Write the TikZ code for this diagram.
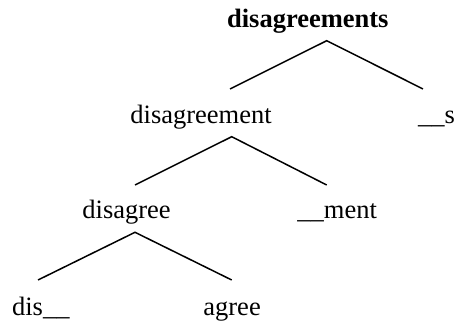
\documentclass[tikz,border=0pt]{standalone}
\usepackage{fontspec}
\setmainfont{Liberation Serif}
\begin{document}
\begin{tikzpicture}[x=0.5pt,y=-0.5pt,
  lbl/.style={anchor=base west, inner sep=0pt, font=\fontsize{13.25}{16}\selectfont},
  rootlbl/.style={lbl, font=\fontsize{13.25}{16}\selectfont\bfseries},
  branch/.style={line width=0.75pt}]
\useasboundingbox (0,0) rectangle (456,324);
% labels
\node[rootlbl] (root) at (226.7,28) {disagreements};
\node[lbl] (n1) at (130,124) {disagreement};
\node[lbl] (s) at (417.7,124) {\_\_s};
\node[lbl] (n2) at (82,219) {disagree};
\node[lbl] (ment) at (297,219) {\_\_ment};
\node[lbl] (dis) at (11.7,316) {dis\_\_};
\node[lbl] (agree) at (203,316) {agree};
% branch points
\coordinate (root-top) at (326.7,40.7);
\coordinate (n1-end) at (230,89);
\coordinate (s-end) at (423,89);
\coordinate (n1-top) at (231.7,136.7);
\coordinate (n2-end) at (135,185);
\coordinate (ment-end) at (326.7,185);
\coordinate (n2-top) at (135,232.3);
\coordinate (dis-end) at (38,280);
\coordinate (agree-end) at (231.7,280);
% connectors
\draw[branch] (n1-end) -- (root-top) -- (s-end);
\draw[branch] (n2-end) -- (n1-top) -- (ment-end);
\draw[branch] (dis-end) -- (n2-top) -- (agree-end);
\end{tikzpicture}
\end{document}
